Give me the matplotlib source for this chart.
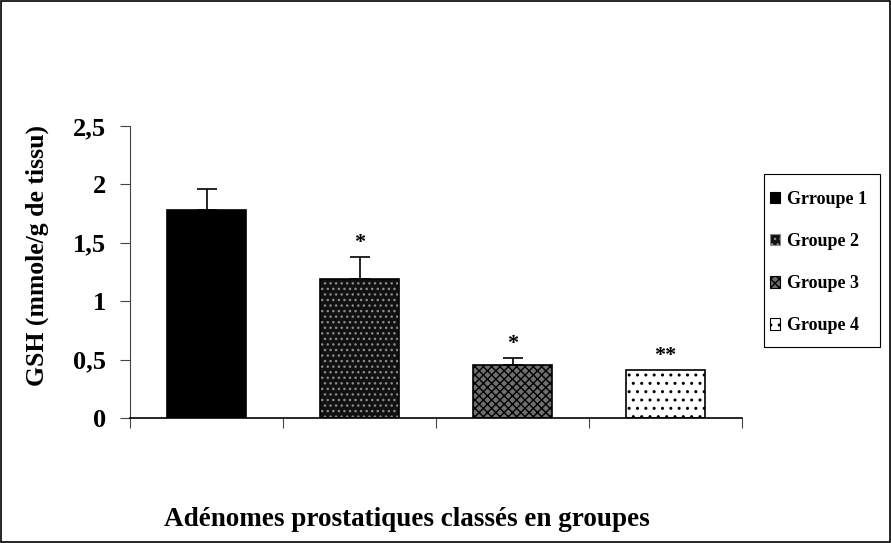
import matplotlib.pyplot as plt
from matplotlib.patches import Rectangle, Patch
import numpy as np

plt.rcParams['font.family'] = ['Liberation Serif', 'DejaVu Serif']
plt.rcParams['font.weight'] = 'bold'
plt.rcParams['hatch.linewidth'] = 1.0

groupes = ['Grroupe 1', 'Groupe 2', 'Groupe 3', 'Groupe 4']
gsh = [1.78, 1.19, 0.45, 0.41]
erreur = [0.18, 0.19, 0.06, 0.0]
signif = ['', '*', '*', '**']

faces = ['black', '#111111', '#6e6e6e', 'white']
hatches = [None, '...', 'xxxx', '..']
hatch_cols = ['black', '#8a8a8a', 'black', 'black']

fig = plt.figure(figsize=(8.91, 5.43), dpi=100)
ax = fig.add_axes([130 / 891, 1 - 418 / 543, 612 / 891, 292 / 543])

x = np.arange(len(groupes))
for i in range(len(groupes)):
    # remplissage + motif, puis contour noir par-dessus
    ax.bar(x[i], gsh[i], width=0.51, color=faces[i], hatch=hatches[i],
           edgecolor=hatch_cols[i], linewidth=0, zorder=2)
    ax.bar(x[i], gsh[i], width=0.51, fill=False, edgecolor='black',
           linewidth=1.2, zorder=3)
    if erreur[i] > 0:
        ax.errorbar(x[i], gsh[i], yerr=[[0], [erreur[i]]], fmt='none',
                    ecolor='black', elinewidth=1.2, capsize=7, capthick=1.2,
                    zorder=4)
    if signif[i]:
        ax.text(x[i], gsh[i] + erreur[i] + 0.035, signif[i], ha='center',
                va='bottom', fontsize=16, fontweight='bold')

ax.set_xlim(-0.5, 3.5)
ax.set_ylim(0, 2.5)
ax.set_yticks([0, 0.5, 1, 1.5, 2, 2.5])
ax.set_yticklabels(['0', '0,5', '1', '1,5', '2', '2,5'], fontsize=19,
                   fontweight='bold')
ax.set_xticks([-0.5, 0.5, 1.5, 2.5, 3.5])
ax.set_xticklabels([])
ax.tick_params(axis='y', direction='out', length=7, width=0.8,
               color='#444444', pad=10)
ax.tick_params(axis='x', direction='out', length=7, width=0.8,
               color='#444444')
for s in ['top', 'right']:
    ax.spines[s].set_visible(False)
ax.spines['left'].set_color('#444444')
ax.spines['bottom'].set_linewidth(1.2)

fig.text(37 / 891, 1 - 256 / 543, 'GSH (mmole/g de tissu)', rotation=90,
         ha='center', va='center', fontsize=18.5, fontweight='bold')
fig.text(407 / 891, 1 - 519 / 543, 'Adénomes prostatiques classés en groupes',
         ha='center', va='center', fontsize=19.5, fontweight='bold')

handles = [Patch(facecolor=faces[i], hatch=hatches[i], edgecolor=hatch_cols[i],
                 linewidth=0.8) for i in range(len(groupes))]
leg = fig.legend(handles, groupes, loc='upper left',
                 bbox_to_anchor=(766 / 891, 1 - 187 / 543),
                 prop={'size': 13, 'weight': 'bold'}, frameon=False,
                 handlelength=0.6, handleheight=0.6, handletextpad=0.35,
                 labelspacing=1.4, borderpad=0.2, borderaxespad=0)

# cadre de la légende, dessiné à part pour garder des marges étroites
fig.patches.append(Rectangle((764 / 891, 1 - 347 / 543), 116 / 891, 173 / 543,
                             transform=fig.transFigure, fill=False,
                             edgecolor='black', linewidth=0.8))

# cadre autour de la figure
fig.patches.append(Rectangle((0.001, 0.001), 0.998, 0.997,
                             transform=fig.transFigure, fill=False,
                             edgecolor='black', linewidth=1.2))

plt.savefig('out.png', dpi=100)
